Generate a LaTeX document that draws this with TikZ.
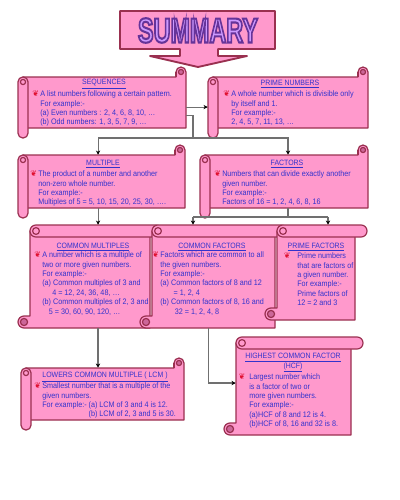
\documentclass[tikz,border=0pt]{standalone}
\usepackage{fontspec}
\usepackage{graphicx}
\setmainfont{Liberation Sans}[FakeStretch=0.9]
\newfontfamily\symfont{DejaVu Sans}
\usetikzlibrary{arrows.meta,fit}
\definecolor{pinkf}{HTML}{FF99CC}
\definecolor{bord}{HTML}{9A3050}
\definecolor{curlc}{HTML}{CC6699}
\definecolor{tblue}{HTML}{3333CC}
\definecolor{lnc}{HTML}{707070}
\definecolor{bulred}{HTML}{E01030}
\definecolor{tlav}{HTML}{CC99FF}
\definecolor{tpurple}{HTML}{663399}
\newcommand\bul[1][0.8pt]{\llap{{\symfont\textcolor{bulred}{❦}}\hspace{#1}}}
\newcommand\outlined[1]{\special{pdf:literal direct 2 Tr 1.6 w 0.4 0.2 0.6 RG}#1\special{pdf:literal direct 0 Tr}}
\tikzset{
  scr/.style={draw=bord, fill=pinkf, line width=0.9pt, line join=round},
  bannerst/.style={draw=bord, fill=pinkf, line width=1.4pt, line join=round},
  ttl/.style={inner sep=0, font=\fontsize{26}{26}\bfseries\selectfont},
  tt/.style={inner sep=0, text=tblue, align=center, font=\fontsize{5.8}{7}\selectfont},
  bt/.style={inner sep=0, anchor=north west, align=left, text=tblue, font=\fontsize{6}{7.1}\selectfont},
  ln/.style={draw=lnc, line width=0.8pt},
  arr/.style={ln, -{Stealth[length=3.2pt,width=3.2pt,black]}},
  bx/.style={inner sep=0, draw=none}
}
\newcommand\HScroll[4]{%
  \draw[scr] ({#1+5},{#2+10}) -- ({#3-10},{#2+10}) -- ({#3-10},{#2+5})
     arc[start angle=180,end angle=360,radius=5] -- ({#3},{#4-10}) -- ({#1+5},{#4-10}) -- cycle;
  \draw[scr, fill=curlc] ({#3-5},{#2+5}) circle[radius=2.6];
  \draw[scr] ({#3-10},{#2+5}) -- ({#3-10},{#2+10});
  \draw[scr, rounded corners=3.6pt] (#1,{#2+10}) rectangle ({#1+10},#4);
  \draw[scr] ({#1+5},{#2+15}) circle[radius=2.6];
}
\newcommand\VScroll[4]{%
  \draw[scr] ({#1+12},{#2+6}) -- ({#3-12},{#2+6}) -- ({#3-12},#4) -- ({#1+6},#4)
     arc[start angle=90,end angle=270,radius=6] -- ({#1+12},{#4-12}) -- cycle;
  \draw[scr, fill=curlc] ({#1+6},{#4-6}) circle[radius=3.6];
  \draw[scr, rounded corners=4.4pt] ({#1+12},#2) rectangle (#3,{#2+12});
  \draw[scr] ({#1+18},{#2+6}) circle[radius=3.4];
}
\begin{document}
\begin{tikzpicture}[x=0.75pt,y=-0.75pt]
\fill[white] (0,0) rectangle (400,500);
\useasboundingbox (0,0) rectangle (400,500);
% banner
\draw[bannerst] (120,11) -- (275,11) -- (275,49) -- (218,49) -- (218,56) -- (247,56)
  -- (198,67) -- (150,56) -- (180,56) -- (180,49) -- (120,49) -- cycle;
\node[ttl, text=tlav] (title) at (198,30.5) {\outlined{\scalebox{0.75}[1]{SUMMARY}}};
% row 1
\HScroll{18}{67}{186}{138}
\HScroll{208}{67}{368}{138}
\node[bx, fit={(18,77) (186,128)}] (seqb) {};
\node[bx, fit={(208,77) (368,128)}] (prb) {};
\node[tt] (seqt) at (104,84) {\underline{SEQUENCES}};
\node[bt] (seqx) at (40,90.5) {\bul A list numbers following a certain pattern.\\For example:-\\(a) Even numbers : 2, 4, 6, 8, 10, …\\(b) Odd numbers: 1, 3, 5, 7, 9, …};
\node[tt] (prt) at (290,84) {\underline{PRIME NUMBERS}};
\node[bt] (prx) at (231,90.5) {\bul A whole number which is divisible only\\by itself and 1.\\For example:-\\2, 4, 5, 7, 11, 13, …};
% row 2
\HScroll{18}{145}{185}{218}
\HScroll{200}{145}{368}{218}
\node[bx, fit={(18,155) (185,208)}] (mulb) {};
\node[bx, fit={(200,155) (368,208)}] (facb) {};
\node[tt] (mult) at (103,164) {\underline{MULTIPLE}};
\node[bt] (mulx) at (38,170.5) {\bul The product of a number and another\\non-zero whole number.\\For example:-\\Multiples of 5 = 5, 10, 15, 20, 25, 30, ….};
\node[tt] (fact) at (287,164) {\underline{FACTORS}};
\node[bt] (facx) at (222,170.5) {\bul Numbers that can divide exactly another\\given number.\\For example:-\\Factors of 16 = 1, 2, 4, 6, 8, 16};
% row 3
\VScroll{18}{225}{162}{328}
\node[bx, fit={(30,225) (162,328)}] (cm) {};
\node[tt] (cmt) at (93,247) {\underline{COMMON MULTIPLES}};
\node[bt] (cmx) at (42,251.5) {\bul A number which is a multiple of\\two or more given numbers.\\For example:-\\(a) Common multiples of 3 and\\\hspace*{7.5pt}4 = 12, 24, 36, 48, …\\(b) Common multiples of 2, 3 and\\\hspace*{5pt}5 = 30, 60, 90, 120, …};
\VScroll{140}{225}{287}{328}
\node[bx, fit={(152,225) (287,328)}] (cf) {};
\node[tt] (cft) at (212,247) {\underline{COMMON FACTORS}};
\node[bt] (cfx) at (160,251.5) {\bul Factors which are common to all\\the given numbers.\\For example:-\\(a) Common factors of 8 and 12\\\hspace*{10pt}= 1, 2, 4\\(b) Common factors of 8, 16 and\\\hspace*{11pt}32 = 1, 2, 4, 8};
\VScroll{265}{225}{367}{320}
\node[bx, fit={(277,225) (367,320)}] (pf) {};
\node[tt] (pft) at (316,247) {\underline{PRIME FACTORS}};
\node[bt] (pfx) at (297,252.5) {\bul[5pt]Prime numbers\\that are factors of\\a given number.\\For example:-\\Prime factors of\\12 = 2 and 3};
% row 4
\HScroll{21}{358}{184}{430}
\node[bx, fit={(21,368) (184,420)}] (lcmb) {};
\node[tt] (lcmt) at (105,377) {\underline{LOWERS COMMON MULTIPLE ( LCM )}};
\node[bt] (lcmx) at (42,382.5) {\bul Smallest number that is a multiple of the\\given numbers.\\For example:- (a) LCM of 3 and 4 is 12.\\\phantom{For example:-} (b) LCM of 2, 3 and 5 is 30.};
\VScroll{224}{337}{363}{435}
\node[bx, fit={(236,337) (363,435)}] (hcf) {};
\node[tt] (hcft) at (293,363) {\underline{HIGHEST COMMON FACTOR}\\\underline{(HCF)}};
\node[bt] (hcfx) at (249,373.5) {\bul[3pt]Largest number which\\is a factor of two or\\more given numbers.\\For example:-\\(a)HCF of 8 and 12 is 4.\\(b)HCF of 8, 16 and 32 is 8.};
% connectors
\draw[arr] ([yshift=-3.4pt]seqb.east) -- ([yshift=-3.4pt]prb.west);
\coordinate (j1) at (193,138);
\draw[ln] ([yshift=-9.4pt]seqb.east) -| (j1);
\draw[arr] (j1) -| ([xshift=-2.6pt]mulb.north);
\draw[arr] (j1) -| ([xshift=3pt]facb.north);
\coordinate (m1) at ([xshift=-2.6pt]mulb.south);
\draw[arr] (m1) -- (m1 |- cm.north);
\coordinate (f1) at ([xshift=3pt]facb.south);
\coordinate (j3) at (193,217);
\coordinate (j4) at (328,217);
\draw[ln] (f1) -- (f1 |- j3);
\draw[ln] (j3) -- (j4);
\draw[arr] (j3) -- (j3 |- cf.north);
\draw[arr] (j4) -- (j4 |- pf.north);
\coordinate (c1) at ([xshift=1.5pt]cm.south);
\draw[arr] (c1) -- (c1 |- lcmb.north);
\coordinate (c2) at ([xshift=-8.6pt]cf.south);
\draw[arr] (c2) |- ([yshift=2.25pt]hcf.west);
\end{tikzpicture}
\end{document}
